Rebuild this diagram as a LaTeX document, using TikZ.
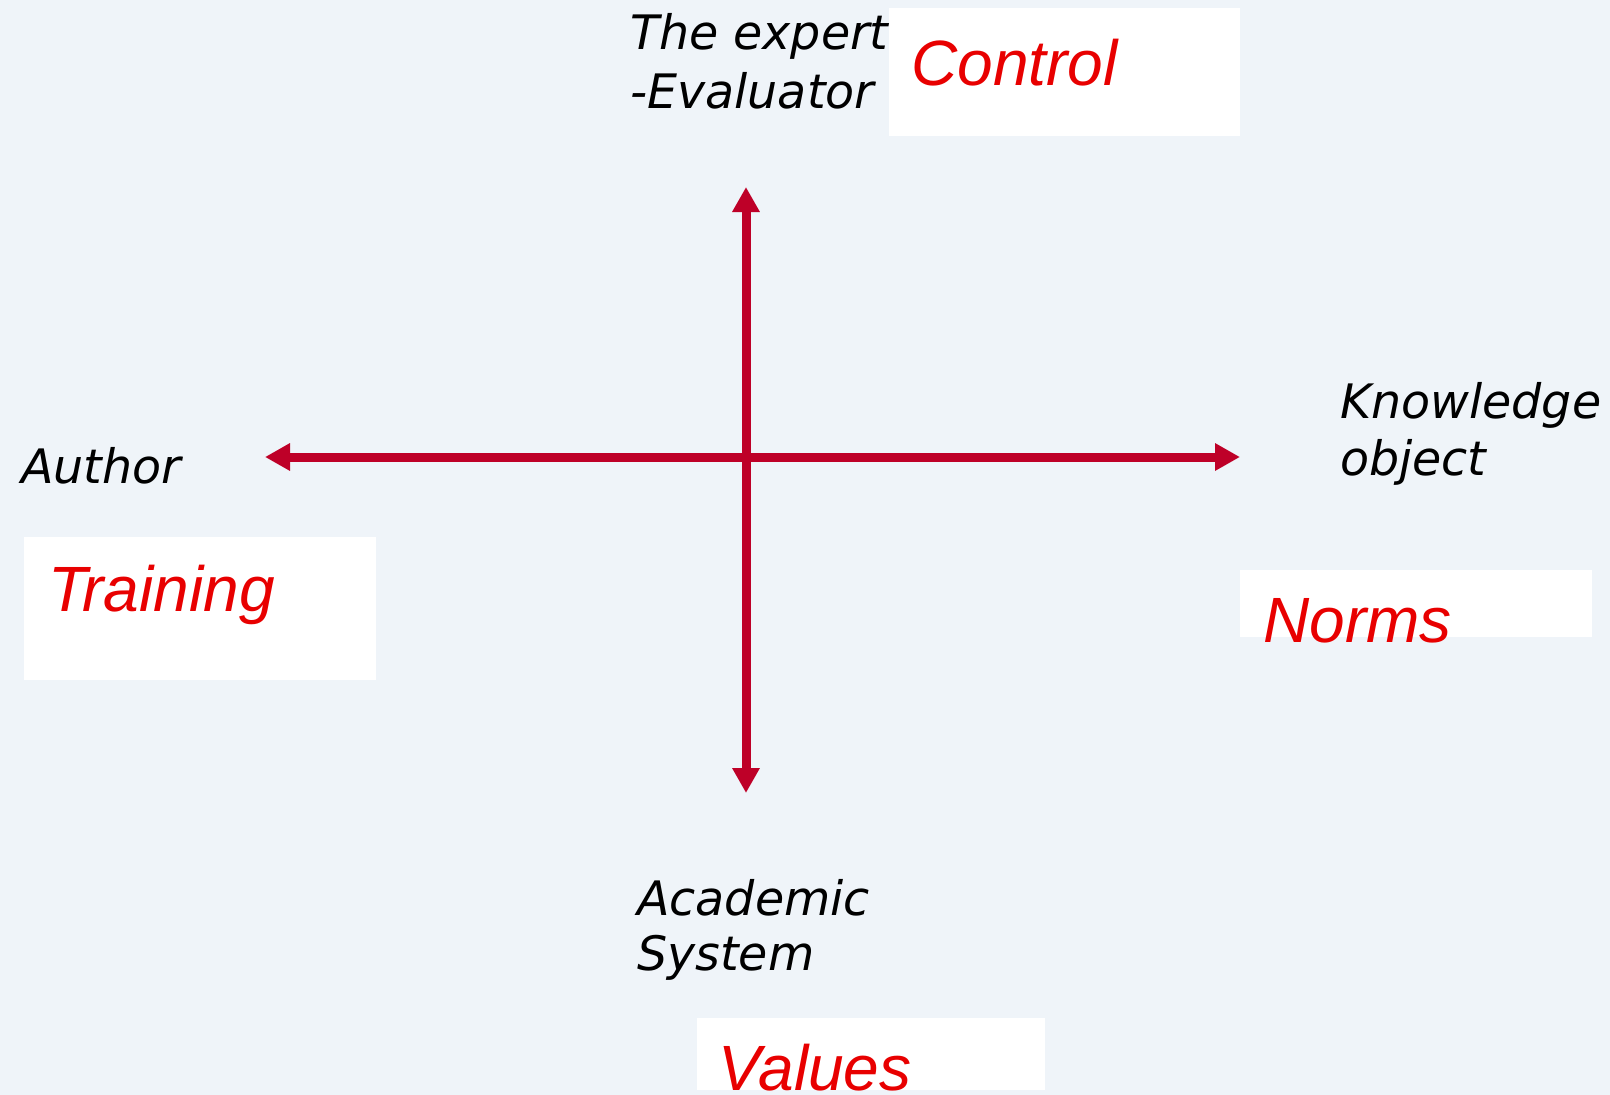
\documentclass[tikz,border=0pt]{standalone}
\usepackage{fontspec}
\usetikzlibrary{arrows.meta}
\newfontfamily\labfont{DejaVu Sans}
\newfontfamily\redfont{Liberation Sans}
\definecolor{bgcol}{RGB}{239,244,249}
\definecolor{axiscol}{RGB}{190,0,40}
\definecolor{redtext}{RGB}{232,0,0}
\tikzset{
  axis/.style={draw=axiscol, line width=9pt, {Triangle[length=25pt,width=26pt]}-{Triangle[length=25pt,width=26pt]}},
  whitebox/.style={fill=white, draw=none, inner sep=0pt, anchor=north west},
  blacklab/.style={inner sep=0pt, anchor=base west, font=\labfont\itshape\fontsize{47.5}{57}\selectfont, text=black},
  redlab/.style={inner sep=0pt, anchor=base west, font=\redfont\itshape\fontsize{64}{70}\selectfont, text=redtext},
}
\begin{document}
\begin{tikzpicture}[x=1pt,y=-1pt]
\useasboundingbox (0,0) rectangle (1610,1095);
\fill[bgcol] (0,0) rectangle (1610,1095);
% white boxes
\node[whitebox, minimum width=351pt, minimum height=128pt] (cbox) at (889,8) {};
\node[whitebox, minimum width=352pt, minimum height=143pt] (tbox) at (24,537) {};
\node[whitebox, minimum width=352pt, minimum height=67pt] (nbox) at (1240,570) {};
\node[whitebox, minimum width=348pt, minimum height=72pt] (vbox) at (697,1018) {};
% axes
\coordinate (west) at (265,457);
\coordinate (east) at (1240,457);
\coordinate (north) at (746,187);
\coordinate (south) at (746,793);
\draw[axis] (west) -- (east);
\draw[axis] (north) -- (south);
% black labels
\node[blacklab] (expert) at (630,49) {\vtop{\baselineskip=59pt\hbox{The expert}\hbox{-Evaluator}}};
\node[blacklab] (author) at (21,483) {Author};
\node[blacklab] (know) at (1340,418) {\vtop{\baselineskip=57pt\hbox{Knowledge}\hbox{object}}};
\node[blacklab] (acad) at (637,915) {\vtop{\baselineskip=55pt\hbox{Academic}\hbox{System}}};
% red labels
\node[redlab] (control) at (911,85) {Control};
\node[redlab] (training) at (48,611) {Training};
\node[redlab] (norms) at (1263,642) {Norms};
\node[redlab] (values) at (718,1090) {Values};
\end{tikzpicture}
\end{document}
